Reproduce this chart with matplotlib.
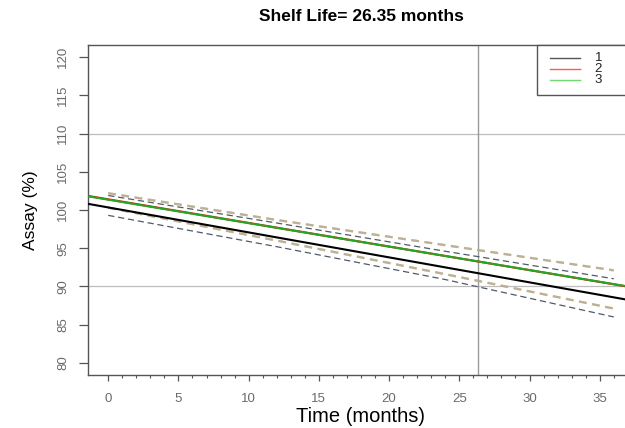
"""Shelf-life stability plot: assay vs time for three batches."""

import matplotlib

matplotlib.use("Agg")
import matplotlib.pyplot as plt
from matplotlib.patches import Rectangle
from matplotlib.ticker import FixedLocator, MultipleLocator

plt.rcParams["font.family"] = ["Liberation Sans", "DejaVu Sans"]

# regression lines per batch
batches = ["1", "2", "3"]
intercepts = [100.34, 101.40, 101.35]
slopes = [-0.327, -0.309, -0.307]
line_colors = ["black", "red", "#22a822"]
legend_colors = ["#555555", "#ff5a5a", "#70d870"]

# confidence bounds, read at these months
bound_months = [0, 12, 24, 36]
b1_upper = [101.9, 98.3, 94.6, 91.0]
b1_lower = [99.3, 95.2, 90.9, 86.0]
b23_upper = [102.2, 98.7, 95.4, 92.1]
b23_lower = [100.3, 96.0, 91.6, 87.1]

shelf_life = 26.35
spec_limits = [90, 110]


def main() -> None:
    fig = plt.figure(figsize=(6.25, 4.28), dpi=100)
    ax = fig.add_axes([0.1408, 0.1238, 0.8736, 0.771])
    ax.set_xlim(-1.44, 37.44)
    ax.set_ylim(78.4, 121.6)

    for y in spec_limits:
        ax.axhline(y, color="#bdbdbd", lw=0.9, zorder=1)
    ax.axvline(shelf_life, color="#9a9a9a", lw=1.0, zorder=1)

    # bounds
    ax.plot(bound_months, b1_upper, color="#4f5a6a", lw=0.9, ls=(0, (5, 3)), zorder=2)
    ax.plot(bound_months, b1_lower, color="#4f5a6a", lw=0.9, ls=(0, (5, 3)), zorder=2)
    for ys in (b23_upper, b23_lower):
        ax.plot(bound_months, ys, color="#d49a86", lw=1.6, ls=(0, (3.5, 2.5)), alpha=0.8, zorder=2)
        ax.plot(bound_months, ys, color="#a7b48c", lw=1.6, ls=(0, (3.5, 2.5)), alpha=0.6, zorder=2)

    for b, m, c in zip(intercepts, slopes, line_colors):
        ax.axline((0, b), slope=m, color=c, lw=1.5, zorder=3)

    ax.yaxis.set_major_locator(MultipleLocator(5))
    ax.set_xticks(range(0, 36, 5))
    ax.xaxis.set_minor_locator(FixedLocator(range(0, 38)))
    ax.tick_params(axis="both", which="major", direction="out", width=0.9,
                   color="#555555", labelcolor="#6a6a6a", labelsize=9.5)
    ax.tick_params(axis="x", which="major", length=4.3, pad=9)
    ax.tick_params(axis="x", which="minor", direction="out", length=2.2,
                   width=0.8, color="#555555")
    ax.tick_params(axis="y", which="major", length=6.5, pad=7)
    for lab in ax.get_yticklabels():
        lab.set_rotation(90)
        lab.set_va("center")
    for s in ax.spines.values():
        s.set_color("#555555")
        s.set_linewidth(1.0)

    ax.set_xlabel("Time (months)", fontsize=14.5, labelpad=1)
    ax.set_ylabel("Assay (%)", fontsize=12.5, labelpad=14)
    ax.set_title("Shelf Life= 26.35 months", fontsize=12.5, fontweight="bold", pad=17)

    # legend box, R style, top right
    ax.add_patch(Rectangle((0.822, 0.848), 0.3, 0.152, transform=ax.transAxes,
                           facecolor="white", edgecolor="#555555", lw=1.0,
                           clip_on=False, zorder=5))
    row_y = [0.961, 0.927, 0.894]
    for lab, c, yy in zip(batches, legend_colors, row_y):
        ax.plot([0.846, 0.901], [yy, yy], color=c, lw=1.0, transform=ax.transAxes,
                clip_on=False, zorder=6)
        ax.text(0.928, yy, lab, transform=ax.transAxes, fontsize=9.5, va="center",
                ha="left", color="#222222", zorder=6)

    fig.savefig("out.png", dpi=100)
    plt.close(fig)


if __name__ == "__main__":
    main()
